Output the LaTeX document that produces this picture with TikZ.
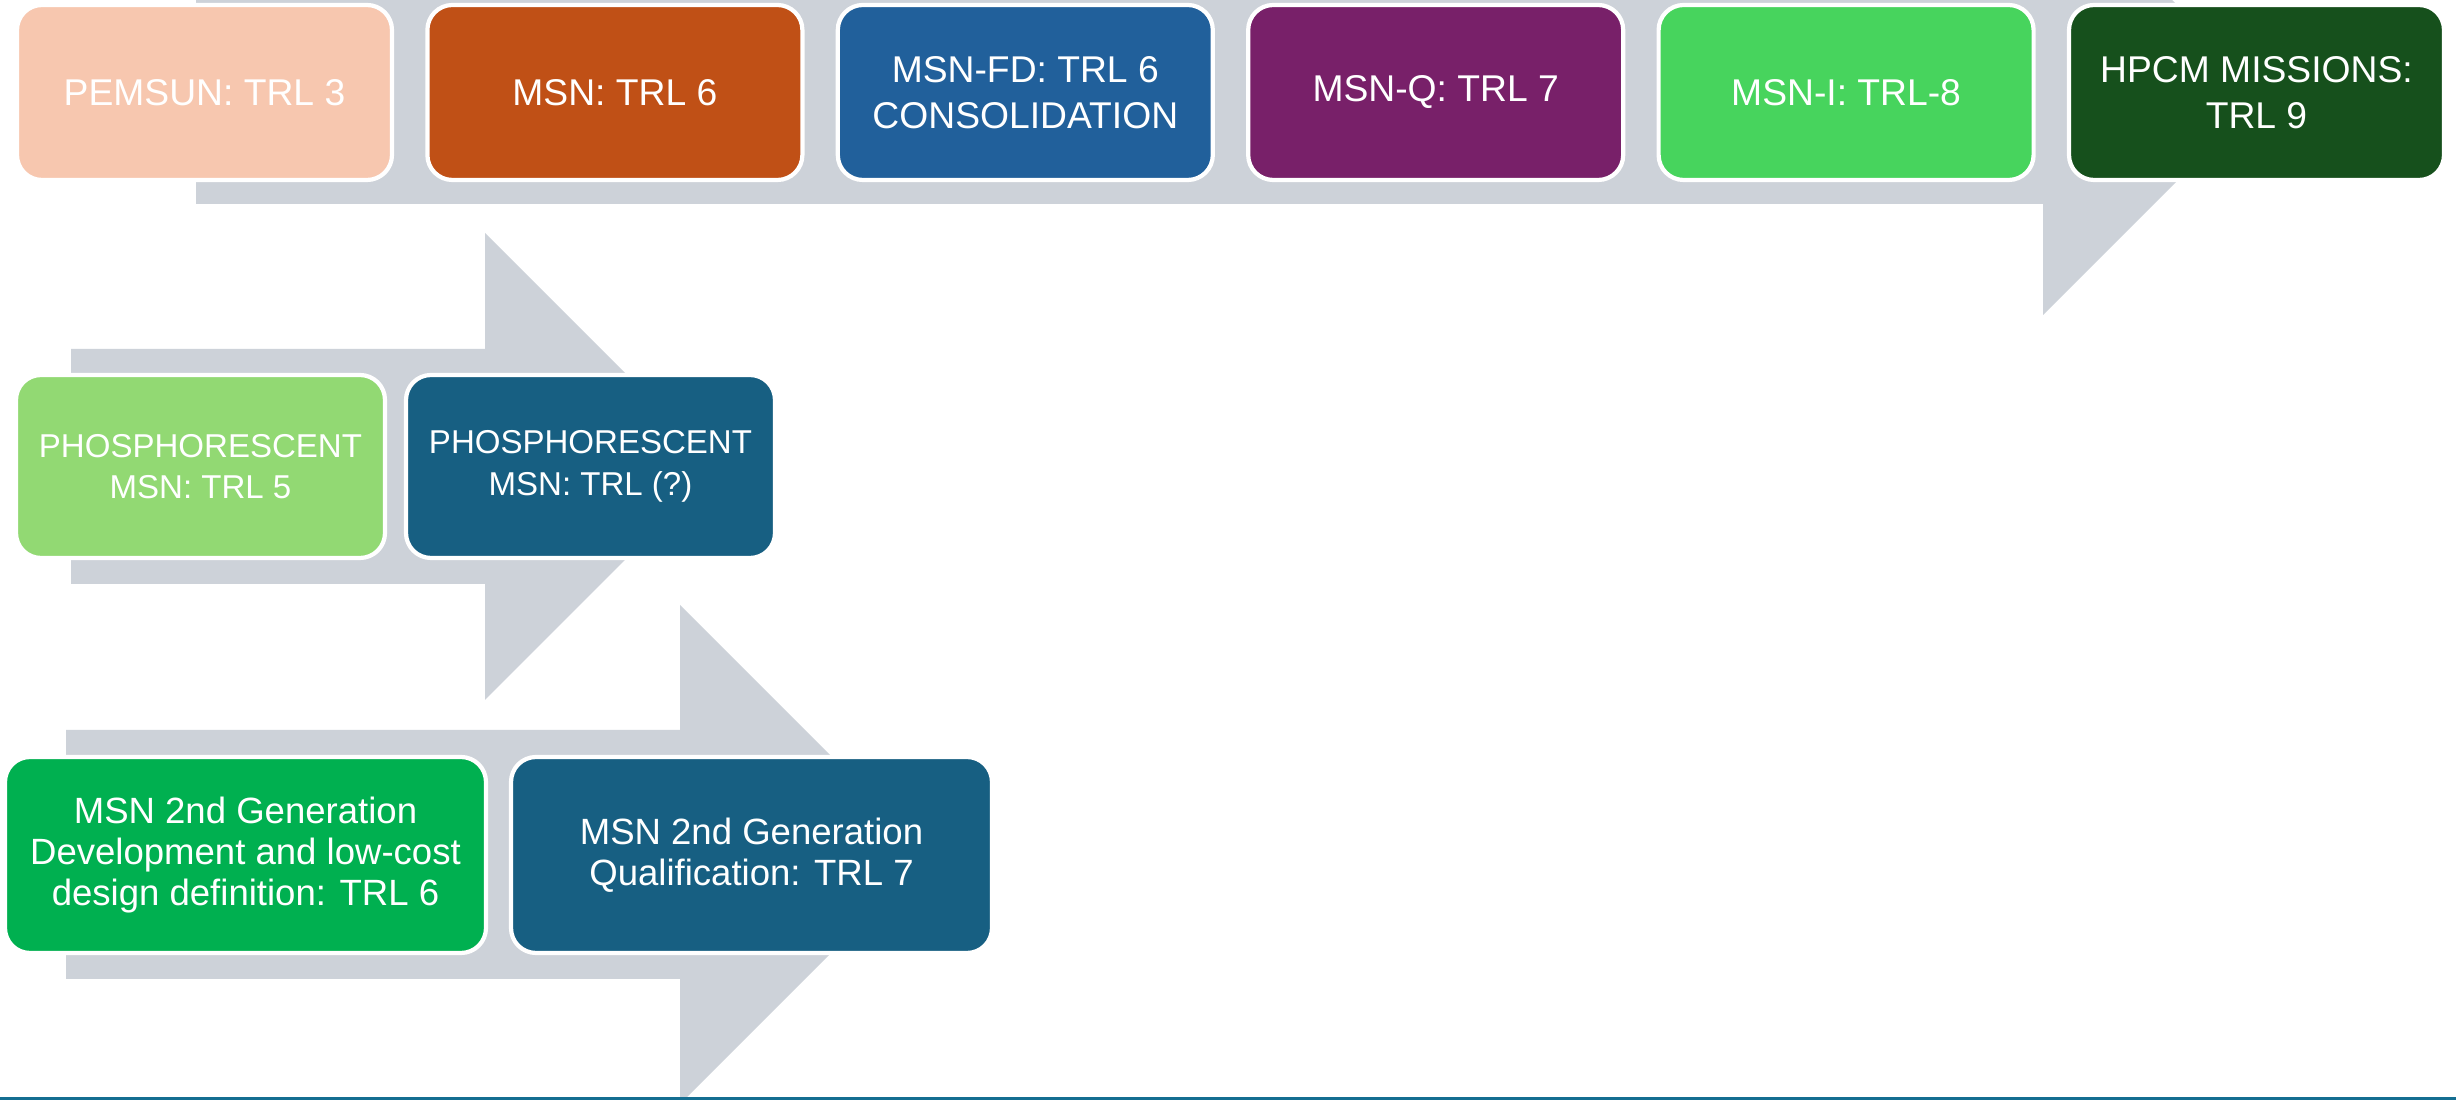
\documentclass[tikz,border=0pt]{standalone}
\usepackage{fontspec}
\setmainfont{Liberation Sans}
\usepackage{tikz}
\usetikzlibrary{positioning}
\usepackage{xcolor}
\definecolor{bandgray}{RGB}{205,210,217}
\definecolor{peach}{RGB}{247,199,175}
\definecolor{rustorange}{RGB}{192,80,22}
\definecolor{steelblue}{RGB}{33,96,155}
\definecolor{plum}{RGB}{120,32,105}
\definecolor{limegreen}{RGB}{71,212,93}
\definecolor{forestgreen}{RGB}{22,80,28}
\definecolor{softgreen}{RGB}{146,217,115}
\definecolor{deepteal}{RGB}{23,95,130}
\definecolor{brightgreen}{RGB}{0,176,80}
\definecolor{lineteal}{RGB}{20,110,145}

\begin{document}
\begin{tikzpicture}[
    stage/.style={rectangle, rounded corners=2.5mm, draw=white, line width=1.2pt,
                  fill=#1, text=white, align=center, inner sep=1pt, outer sep=0pt},
    toprow/.style={stage=#1, minimum width=3.75cm, minimum height=1.75cm,
                   font=\fontsize{10.6}{13.2}\selectfont},
    midrow/.style={stage=#1, minimum width=3.69cm, minimum height=1.83cm,
                   font=\fontsize{9.4}{11.8}\selectfont},
    lowrow/.style={stage=#1, minimum width=4.81cm, minimum height=1.96cm,
                   font=\fontsize{10.4}{11.6}\selectfont},
    band/.style={fill=bandgray, draw=none},
]
    \useasboundingbox (0,0) rectangle (24.56,11);
    \clip (0,0) rectangle (24.56,11);
    \fill[white] (0,0) rectangle (24.56,11);

    % Background arrows
    \path[band] (1.96,11.18) -- (20.43,11.18) -- (20.43,12.29) -- (22.65,10.07)
        -- (20.43,7.85) -- (20.43,8.96) -- (1.96,8.96) -- cycle;
    \path[band] (0.71,7.51) -- (4.85,7.51) -- (4.85,8.67) -- (7.185,6.335)
        -- (4.85,4.00) -- (4.85,5.16) -- (0.71,5.16) -- cycle;
    \path[band] (0.66,3.70) -- (6.80,3.70) -- (6.80,4.95) -- (9.295,2.455)
        -- (6.80,-0.04) -- (6.80,1.21) -- (0.66,1.21) -- cycle;

    % Main TRL path
    \node[toprow=peach] (pemsun) at (2.045,10.075) {PEMSUN: TRL 3};
    \node[toprow=rustorange, right=0.354cm of pemsun] (msn) {MSN: TRL 6};
    \node[toprow=steelblue, right=0.354cm of msn] (msnfd) {MSN-FD: TRL 6\\CONSOLIDATION};
    \node[toprow=plum, right=0.354cm of msnfd] (msnq) {MSN-Q: TRL 7};
    \node[toprow=limegreen, right=0.354cm of msnq] (msni) {MSN-I: TRL-8};
    \node[toprow=forestgreen, right=0.354cm of msni] (hpcm) {HPCM MISSIONS:\\TRL 9};

    % Phosphorescent path
    \node[midrow=softgreen] (phosA) at (2.005,6.335) {PHOSPHORESCENT\\MSN: TRL 5};
    \node[midrow=deepteal, right=0.21cm of phosA] (phosB) {PHOSPHORESCENT\\MSN: TRL (?)};

    % Second generation path
    \node[lowrow=brightgreen] (gendev) at (2.455,2.45) {MSN 2nd Generation\\Development and low-cost\\design definition: TRL 6};
    \node[lowrow=deepteal, right=0.25cm of gendev] (genqual) {MSN 2nd Generation\\Qualification: TRL 7};

    % Bottom rule
    \draw[lineteal, line width=1pt] (0,0.017) -- (24.56,0.017);
\end{tikzpicture}
\end{document}
